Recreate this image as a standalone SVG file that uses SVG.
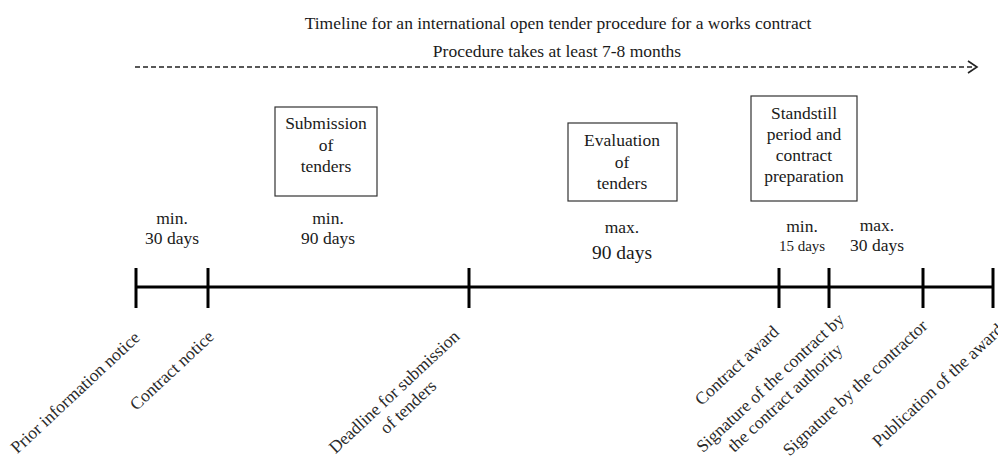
<svg xmlns="http://www.w3.org/2000/svg" width="998" height="457" viewBox="0 0 998 457">
<style>
text{font-family:"Liberation Serif","Times New Roman",serif;fill:#1a1a1a}
.t{font-size:17.5px;text-anchor:middle}
.b{font-size:17.5px;text-anchor:middle}
.lbl{font-size:17.5px;fill:#2a2a2a}
.box{fill:#fff;stroke:#333;stroke-width:1.2}
.tick{stroke:#000;stroke-width:3}
</style>
<rect width="998" height="457" fill="#fff"/>
<g id="title">
<text class="t" x="558" y="29">Timeline for an international open tender procedure for a works contract</text>
<text class="t" x="557" y="57">Procedure takes at least 7-8 months</text>
</g>
<g id="connectors">
<line x1="135" y1="67" x2="974" y2="67" stroke="#222" stroke-width="1.5" stroke-dasharray="5,3"/>
<polyline points="968,61 977,67 968,73" fill="none" stroke="#222" stroke-width="1.6"/>
<line x1="136" y1="287" x2="994" y2="287" stroke="#000" stroke-width="3"/>
</g>
<g id="ticks">
<line class="tick" x1="136" y1="268" x2="136" y2="308"/>
<line class="tick" x1="208" y1="268" x2="208" y2="308"/>
<line class="tick" x1="469" y1="268" x2="469" y2="308"/>
<line class="tick" x1="779" y1="268" x2="779" y2="308"/>
<line class="tick" x1="829" y1="268" x2="829" y2="308"/>
<line class="tick" x1="923" y1="268" x2="923" y2="308"/>
<line class="tick" x1="993" y1="268" x2="993" y2="308"/>
</g>
<g id="box-submission">
<rect class="box" x="275" y="107" width="102" height="89"/>
<text class="b" x="326" y="129">Submission</text>
<text class="b" x="326" y="151">of</text>
<text class="b" x="326" y="172">tenders</text>
</g>
<g id="box-evaluation">
<rect class="box" x="568" y="123" width="109" height="78"/>
<text class="b" x="622" y="146">Evaluation</text>
<text class="b" x="622" y="168">of</text>
<text class="b" x="622" y="189">tenders</text>
</g>
<g id="box-standstill">
<rect class="box" x="751" y="96" width="106" height="105"/>
<text class="b" x="804" y="119">Standstill</text>
<text class="b" x="804" y="140">period and</text>
<text class="b" x="804" y="161">contract</text>
<text class="b" x="804" y="182">preparation</text>
</g>
<g id="durations">
<text class="b" x="172" y="224">min.</text>
<text class="b" x="172" y="244">30 days</text>
<text class="b" x="328" y="224">min.</text>
<text class="b" x="328" y="244">90 days</text>
<text class="b" x="622" y="233">max.</text>
<text class="b" x="622" y="259" style="font-size:19.5px">90 days</text>
<text class="b" x="802" y="232">min.</text>
<text class="b" x="802" y="251" style="font-size:15px">15 days</text>
<text class="b" x="877" y="231">max.</text>
<text class="b" x="877" y="251">30 days</text>
</g>
<g id="milestone-prior">
<text class="lbl" text-anchor="end" transform="translate(141,339) rotate(-43)">Prior information notice</text>
</g>
<g id="milestone-contract-notice">
<text class="lbl" text-anchor="end" transform="translate(215,338) rotate(-43)">Contract notice</text>
</g>
<g id="milestone-deadline">
<text class="lbl" text-anchor="middle" transform="translate(398,396) rotate(-43)">Deadline for submission</text>
<text class="lbl" text-anchor="middle" transform="translate(412,411) rotate(-43)">of  tenders</text>
</g>
<g id="milestone-award">
<text class="lbl" text-anchor="end" transform="translate(780,333) rotate(-43)">Contract award</text>
</g>
<g id="milestone-signature-authority">
<text class="lbl" text-anchor="middle" transform="translate(774,387) rotate(-43)">Signature of the contract by</text>
<text class="lbl" text-anchor="middle" transform="translate(789,402) rotate(-43)">the contract authority</text>
</g>
<g id="milestone-signature-contractor">
<text class="lbl" text-anchor="middle" transform="translate(859,392) rotate(-43)">Signature by the contractor</text>
</g>
<g id="milestone-publication">
<text class="lbl" text-anchor="start" transform="translate(879,448) rotate(-43)">Publication of the award</text>
</g>
</svg>
